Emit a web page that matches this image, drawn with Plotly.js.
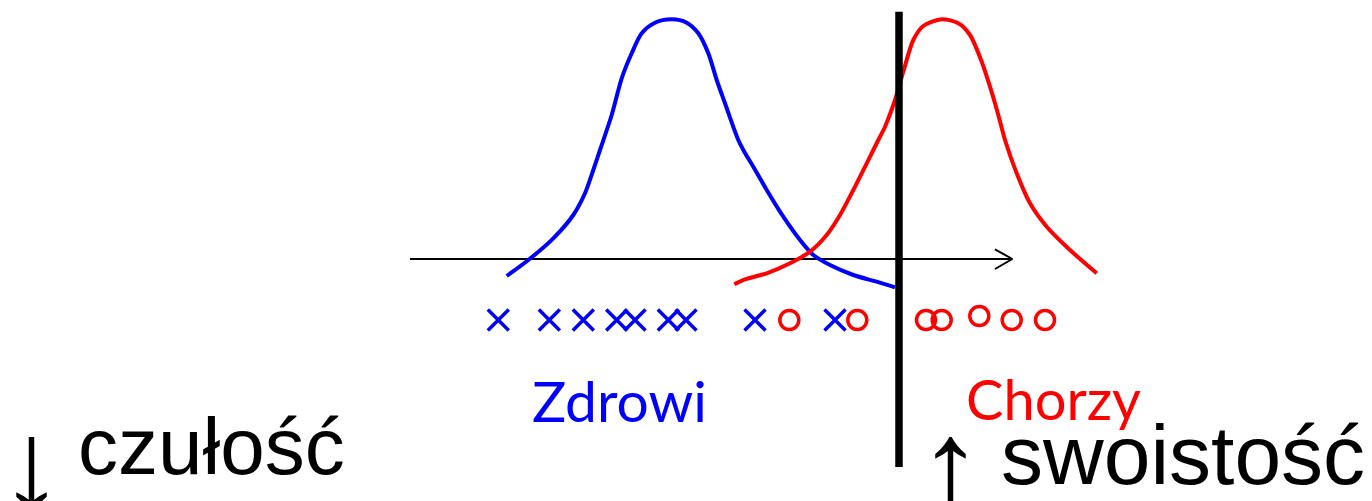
<!DOCTYPE html>
<html>
<head>
<meta charset="utf-8">
<script src="https://cdn.plot.ly/plotly-3.0.1.min.js"></script>
<style>html,body{margin:0;padding:0;background:#fff;}#chart{width:1372px;height:501px;}</style>
</head>
<body>
<div id="chart"></div>
<script>
// Coordinates: x = horizontal position (test value), y = height above the test axis (axis at y = 0)
const healthyCurveX = [506.7, 528.3, 553.3, 573.3, 585, 593.3, 600, 611.7, 621.7, 631.7, 641.7, 655, 671.7, 686.7, 698.3, 708.3, 716.7, 725, 738.3, 745, 753.3, 766.7, 783.3, 800, 813.3, 830, 853.3, 876.7, 895];
const healthyCurveY = [-17, -1, 20.7, 44, 65.7, 89, 109, 144, 180.7, 205.7, 225.7, 236.3, 239.7, 236.3, 225.7, 205.7, 179, 155.7, 119, 106, 92.3, 69, 42.3, 19, 4, -6, -16, -22.7, -28.3];

const sickCurveX = [734.3, 745, 766.7, 790, 810, 826.7, 840, 853.3, 866.7, 873.3, 878.3, 885, 895, 903.3, 913.3, 923.3, 941.7, 958.3, 970, 981.7, 990, 998.3, 1005, 1016.7, 1030, 1046.7, 1070, 1096.7];
const sickCurveY = [-25.3, -20.3, -14.3, -4.3, 7.3, 24, 44, 69, 95.7, 109, 119, 132.3, 159, 187.3, 219, 233, 239.7, 235.7, 224, 197.3, 172.3, 144, 119, 85.7, 55.7, 32.3, 9, -14.3];

// individual observations
const healthyPointsX = [498.3, 549.3, 583.3, 616.7, 635, 668.3, 686, 755, 835];
const healthyPointsY = [-61, -61, -61, -61, -61, -61, -61, -61, -61];
const sickPointsX = [789.3, 857.3, 926, 941.7, 979.3, 1011.7, 1045];
const sickPointsY = [-61, -61, -61, -61, -57, -61, -61];

// test axis and cut-off
const axisX = [410, 1012.3];
const axisY = [0, 0];
const arrowHeadX = [995, 1012.3, 995];
const arrowHeadY = [9.7, 0, -10];
const cutoffX = [899, 899];
const cutoffY = [247.3, -208];

// labels
const groupLabels = ["Zdrowi", "Chorzy"];
const groupLabelX = [619, 1053];
const groupLabelY = [-141, -139];
const effectLabels = ["czułość", "swoistość"];
const effectLabelX = [211, 1182.5];
const effectLabelY = [-187, -196];
const arrowLabels = ["↓", "↑"];
const arrowLabelX = [31.7, 950];
const arrowLabelY = [-206, -206];

const BLUE = "#0000FF", RED = "#FF0000";

const traces = [
  {x: axisX, y: axisY, mode: "lines", line: {color: "#000", width: 2}, hoverinfo: "skip"},
  {x: arrowHeadX, y: arrowHeadY, mode: "lines", line: {color: "#000", width: 2}, hoverinfo: "skip"},
  {x: healthyCurveX, y: healthyCurveY, mode: "lines", line: {color: BLUE, width: 4, shape: "spline", smoothing: 0.8}},
  {x: sickCurveX, y: sickCurveY, mode: "lines", line: {color: RED, width: 4, shape: "spline", smoothing: 0.8}},
  {x: cutoffX, y: cutoffY, mode: "lines", line: {color: "#000", width: 7.5}},
  {x: healthyPointsX, y: healthyPointsY, mode: "markers", marker: {symbol: "x-thin-open", size: 21, color: BLUE, line: {color: BLUE, width: 3.5}}},
  {x: sickPointsX, y: sickPointsY, mode: "markers", marker: {symbol: "circle-open", size: 19, color: RED, line: {color: RED, width: 3.5}}}
];

const annotations = [];
groupLabels.forEach((t, i) => annotations.push({
  x: groupLabelX[i], y: groupLabelY[i], xref: "x", yref: "y", text: t, showarrow: false,
  xanchor: "center", yanchor: "middle",
  font: {family: "Lato, 'Open Sans', sans-serif", size: i === 0 ? 57 : 56, color: i === 0 ? BLUE : RED}
}));
effectLabels.forEach((t, i) => annotations.push({
  x: effectLabelX[i], y: effectLabelY[i], xref: "x", yref: "y", text: t, showarrow: false,
  xanchor: "center", yanchor: "middle",
  font: {family: "'Liberation Sans', Arial, sans-serif", size: i === 0 ? 80 : 84, color: "#000"}
}));
arrowLabels.forEach((t, i) => annotations.push({
  x: arrowLabelX[i], y: arrowLabelY[i], xref: "x", yref: "y", text: t, showarrow: false,
  xanchor: "center", yanchor: "middle",
  font: {family: "'Liberation Sans', Arial, sans-serif", size: 130, color: "#000"}
}));

const layout = {
  width: 1372, height: 501,
  margin: {l: 0, r: 0, t: 0, b: 0, pad: 0},
  paper_bgcolor: "#fff", plot_bgcolor: "#fff",
  showlegend: false,
  xaxis: {range: [0, 1372], visible: false, fixedrange: true},
  yaxis: {range: [-242, 259], visible: false, fixedrange: true},
  annotations: annotations
};

Plotly.newPlot("chart", traces, layout, {staticPlot: true, displayModeBar: false});
</script>
</body>
</html>
